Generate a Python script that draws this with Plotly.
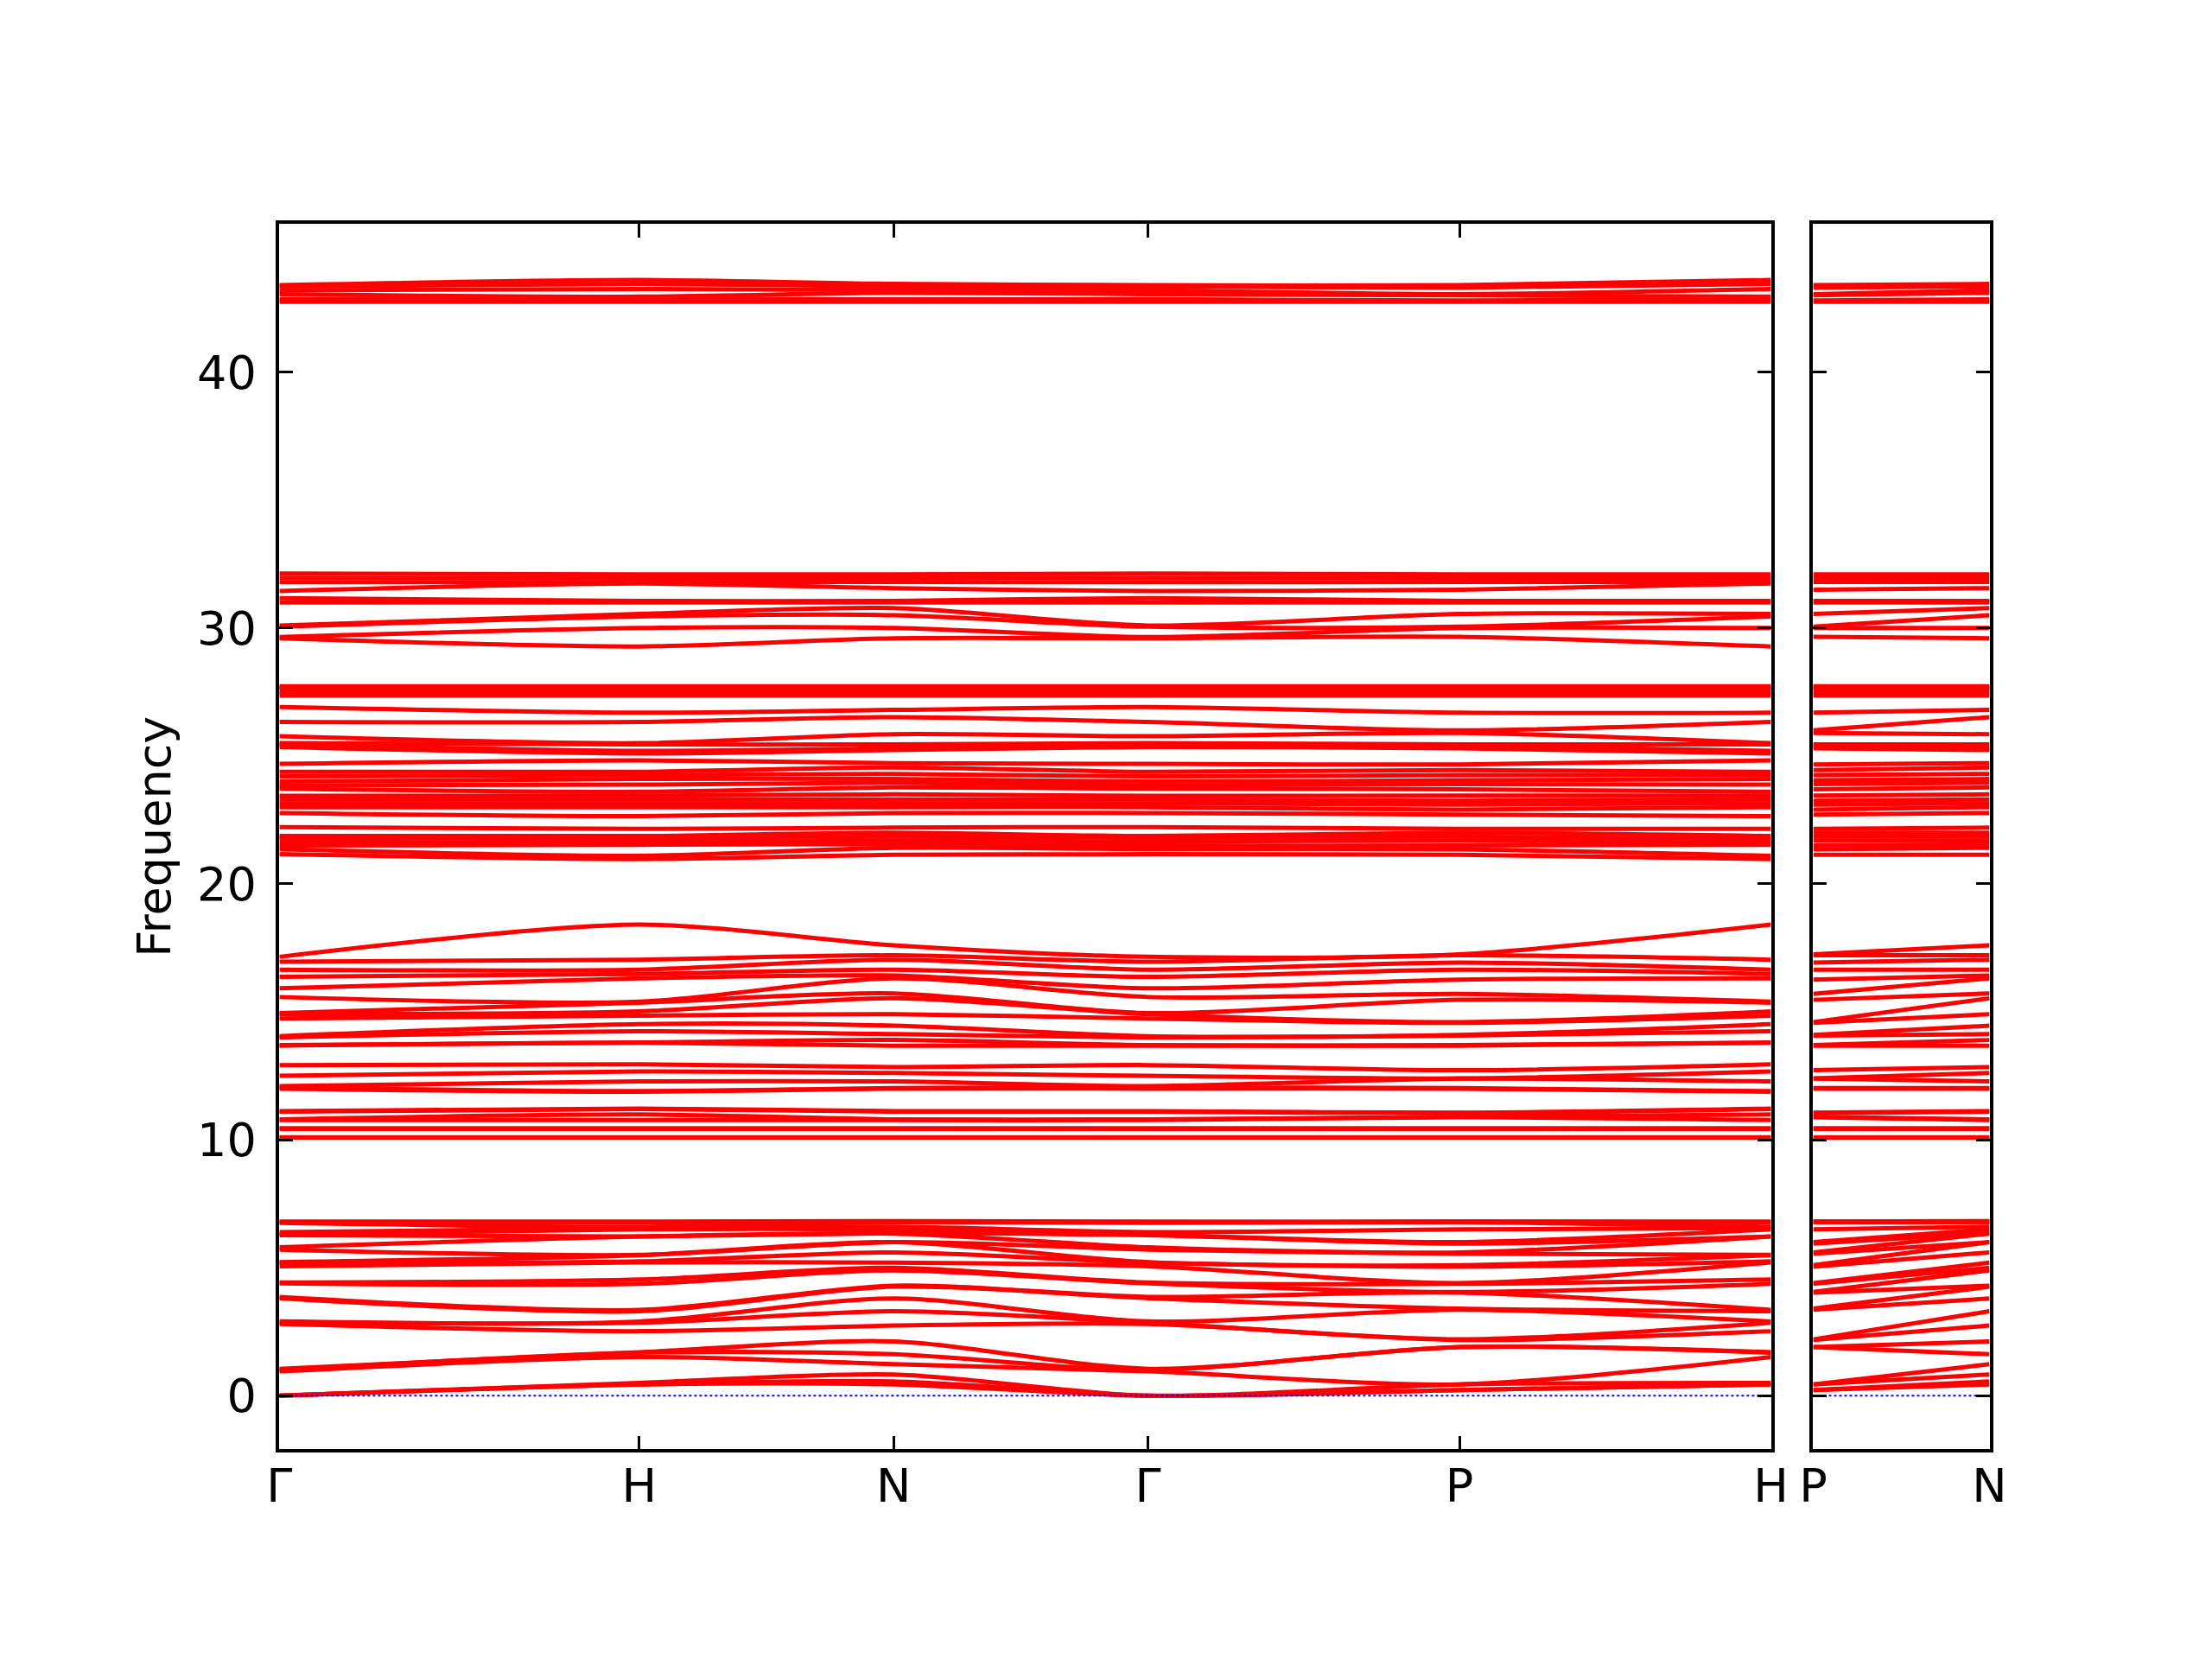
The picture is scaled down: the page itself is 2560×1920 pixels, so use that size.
import plotly.graph_objects as go

# High-symmetry path (BCC): main panel and second panel
path_labels = ["Γ", "H", "N", "Γ", "P", "H"]
path_pos = [0.0, 1.0, 1.7071, 2.4142, 3.2802, 4.1463]
path2_labels = ["P", "N"]
path2_pos = [0.0, 0.5]

# Band energies read at the high-symmetry points (each group sorted)
low_G = [0.0, 0.0, 0.0, 0.95, 1.0, 1.05, 2.8, 2.85, 2.9, 3.81, 3.86, 4.39, 4.42, 5.06, 5.2, 5.22, 5.71, 5.8, 6.27, 6.3, 6.39, 6.75, 6.78, 6.8]
low_H = [0.44, 0.44, 0.5, 1.51, 1.68, 1.7, 2.52, 2.85, 2.9, 3.3, 3.35, 4.37, 4.54, 5.21, 5.25, 5.49, 5.5, 6.22, 6.22, 6.5, 6.55, 6.6, 6.78, 6.8]
low_N = [0.44, 0.56, 0.83, 1.23, 1.62, 2.12, 2.74, 3.3, 3.8, 4.26, 4.3, 4.9, 5.0, 5.2, 5.6, 6.0, 6.0, 6.33, 6.35, 6.5, 6.6, 6.78, 6.8, 6.82]
low_P = [0.22, 0.22, 0.44, 0.44, 1.9, 1.9, 2.18, 2.2, 3.36, 3.4, 4.03, 4.05, 4.37, 4.4, 5.04, 5.1, 5.55, 5.6, 5.94, 6.0, 6.5, 6.78, 6.8, 6.8]

mid_G = [10.09, 10.1, 10.43, 10.45, 10.77, 10.8, 11.1, 11.12, 12.0, 12.05, 12.1, 12.5, 12.92, 13.68, 13.7, 14.0, 14.05, 14.74, 14.91, 14.95, 15.58, 15.92, 16.37, 16.65, 16.96, 17.15]
mid_H = [10.09, 10.1, 10.43, 10.45, 10.77, 10.99, 11.2, 11.22, 11.88, 11.9, 12.28, 12.67, 12.95, 13.79, 13.8, 14.24, 14.52, 14.85, 15.02, 15.36, 15.4, 16.31, 16.48, 16.65, 17.04, 18.41]
mid_N = [10.09, 10.1, 10.43, 10.45, 10.77, 10.8, 11.1, 11.12, 12.0, 12.02, 12.28, 12.61, 12.84, 13.68, 13.9, 14.13, 14.46, 14.91, 15.53, 15.72, 16.31, 16.42, 16.65, 17.04, 17.21, 17.6]
mid_P = [10.09, 10.1, 10.43, 10.45, 10.88, 10.9, 11.04, 11.06, 12.0, 12.02, 12.39, 12.4, 12.72, 13.68, 13.7, 14.07, 14.1, 14.57, 14.6, 15.47, 15.7, 16.26, 16.65, 16.93, 17.21, 17.25]

up_G = [21.16, 21.36, 21.5, 21.65, 21.8, 21.87, 22.22, 22.77, 23.0, 23.15, 23.3, 23.44, 23.72, 23.85, 24.0, 24.2, 24.38, 24.69, 25.35, 25.45, 25.5, 25.77, 26.33, 26.91, 27.36, 27.45, 27.55, 27.65, 27.7, 27.72]
up_H = [20.97, 21.1, 21.53, 21.6, 21.75, 21.87, 22.15, 22.65, 23.0, 23.15, 23.3, 23.45, 23.6, 23.88, 24.1, 24.25, 24.38, 24.83, 25.1, 25.2, 25.45, 25.5, 26.33, 26.69, 27.36, 27.45, 27.55, 27.65, 27.7, 27.72]
up_N = [21.14, 21.41, 21.55, 21.7, 21.85, 22.0, 22.2, 22.77, 23.0, 23.15, 23.3, 23.5, 23.77, 23.95, 24.1, 24.3, 24.55, 24.72, 25.23, 25.3, 25.45, 25.85, 26.52, 26.8, 27.36, 27.45, 27.55, 27.65, 27.7, 27.72]
up_P = [21.14, 21.35, 21.5, 21.7, 21.85, 22.0, 22.15, 22.71, 22.9, 23.1, 23.25, 23.45, 23.7, 23.9, 24.05, 24.25, 24.45, 24.67, 25.3, 25.4, 25.45, 25.9, 26.0, 26.69, 27.36, 27.45, 27.55, 27.65, 27.7, 27.72]

hi_G = [29.6, 29.65, 30.05, 30.1, 31.0, 31.17, 31.45, 31.79, 31.96, 32.13]
hi_H = [29.28, 30.0, 30.45, 30.55, 31.0, 31.06, 31.74, 31.8, 31.95, 32.1]
hi_N = [29.6, 30.0, 30.5, 30.78, 31.0, 31.06, 31.56, 31.8, 31.96, 32.1]
hi_P = [29.66, 30.0, 30.05, 30.55, 31.0, 31.06, 31.5, 31.8, 31.96, 32.1]

top_G = [42.75, 42.85, 43.05, 43.2, 43.35, 43.4]
top_H = [42.75, 42.85, 42.95, 43.25, 43.45, 43.6]
top_N = [42.75, 42.85, 43.1, 43.2, 43.35, 43.45]
top_P = [42.75, 42.8, 43.0, 43.05, 43.3, 43.4]

groups = [
    (low_G, low_H, low_N, low_P),
    (mid_G, mid_H, mid_N, mid_P),
    (up_G, up_H, up_N, up_P),
    (hi_G, hi_H, hi_N, hi_P),
    (top_G, top_H, top_N, top_P),
]

RED = "#ff0000"
LW = 5

fig = go.Figure()
for G, H, N, P in groups:
    for i in range(len(G)):
        fig.add_trace(go.Scatter(
            x=path_pos, y=[G[i], H[i], N[i], G[i], P[i], H[i]],
            mode="lines", line=dict(color=RED, width=LW, shape="spline", smoothing=0.8),
            xaxis="x", yaxis="y", showlegend=False, hoverinfo="skip"))
        fig.add_trace(go.Scatter(
            x=path2_pos, y=[P[i], N[i]],
            mode="lines", line=dict(color=RED, width=LW),
            xaxis="x2", yaxis="y2", showlegend=False, hoverinfo="skip"))

# zero line (blue dotted)
fig.add_trace(go.Scatter(x=[path_pos[0], path_pos[-1]], y=[0, 0], mode="lines",
                         line=dict(color="blue", width=2, dash="dot"),
                         xaxis="x", yaxis="y", showlegend=False, hoverinfo="skip"))
fig.add_trace(go.Scatter(x=[path2_pos[0], path2_pos[-1]], y=[0, 0], mode="lines",
                         line=dict(color="blue", width=2, dash="dot"),
                         xaxis="x2", yaxis="y2", showlegend=False, hoverinfo="skip"))

FONT = dict(family="DejaVu Sans", size=54, color="black")
yr = [-2.1, 45.8]
yd = [0.1305, 0.8693]
common_ax = dict(showline=True, linecolor="black", linewidth=3.5, mirror="allticks",
                 ticks="inside", ticklen=16, tickwidth=3, tickcolor="black",
                 showgrid=False, zeroline=False, tickfont=FONT, automargin=False)

fig.update_layout(
    width=2560, height=1920,
    margin=dict(l=0, r=0, t=0, b=0),
    paper_bgcolor="white", plot_bgcolor="white",
    font=FONT,
    xaxis=dict(domain=[0.1232, 0.7975], range=[path_pos[0], path_pos[-1]],
               tickmode="array", tickvals=path_pos, ticktext=path_labels,
               anchor="y", ticklabelstandoff=-8, **common_ax),
    yaxis=dict(domain=yd, range=yr, tickmode="array", tickvals=[0, 10, 20, 30, 40],
               anchor="x", ticklabelstandoff=12,
               title=dict(text="Frequency", font=FONT, standoff=14), **common_ax),
    xaxis2=dict(domain=[0.8166, 0.8963], range=[path2_pos[0], path2_pos[-1]],
                tickmode="array", tickvals=path2_pos, ticktext=path2_labels,
                anchor="y2", ticklabelstandoff=-8, **common_ax),
    yaxis2=dict(domain=yd, range=yr, tickmode="array", tickvals=[0, 10, 20, 30, 40],
                showticklabels=False, anchor="x2", **common_ax),
)

fig.write_html("out.html")
